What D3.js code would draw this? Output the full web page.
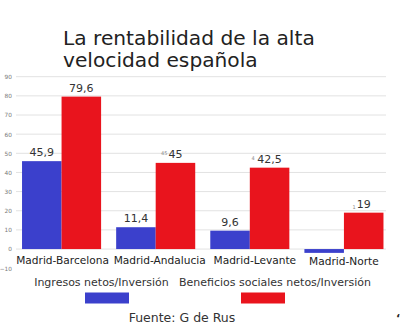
<!DOCTYPE html>
<html>
<head>
<meta charset="utf-8">
<script src="https://cdn.jsdelivr.net/npm/d3@7"></script>
<style>
  html, body { margin: 0; padding: 0; background: #ffffff; }
  svg { display: block; font-family: "DejaVu Sans", Verdana, sans-serif; }
</style>
</head>
<body>
<div id="chart"></div>
<script>
  const categories = ["Madrid-Barcelona", "Madrid-Andalucia", "Madrid-Levante", "Madrid-Norte"];
  const seriesNames = ["Ingresos netos/Inversión", "Beneficios sociales netos/Inversión"];
  const ingresos = [45.9, 11.4, 9.6, -2];
  const beneficios = [79.6, 45, 42.5, 19];
  const ingresosLabels = ["45,9", "11,4", "9,6", ""];
  const beneficiosLabels = ["79,6", "45", "42,5", "19"];
  const beneficiosPrefix = ["", "45", "4", "1"];
  const yTicks = [-10, 0, 10, 20, 30, 40, 50, 60, 70, 80, 90];

  const width = 401;
  const height = 333;
  const colors = ["#3b40cc", "#e9141d"];
  const textColor = "#333333";

  const svg = d3.select("#chart").append("svg").attr("width", width).attr("height", height);

  const x = d3.scaleBand().domain(categories).range([14.5, 391]).paddingInner(0.16).paddingOuter(0.08);
  const xs = d3.scaleBand().domain(seriesNames).range([0, x.bandwidth()]);
  const y = d3.scaleLinear().domain([-10, 90]).range([268.2, 76.7]);

  // gridlines
  svg
    .append("g")
    .selectAll("line")
    .data(yTicks.filter((d) => d >= 0))
    .join("line")
    .attr("x1", 16)
    .attr("x2", 386)
    .attr("y1", (d) => y(d))
    .attr("y2", (d) => y(d))
    .attr("stroke", "#e2e2e2")
    .attr("stroke-width", 1);

  // y axis labels, tiny and grey
  svg
    .append("g")
    .attr("transform", "translate(12,0)")
    .call(d3.axisLeft(y).tickValues(yTicks).tickSize(0).tickPadding(0))
    .call((axis) => axis.select(".domain").remove())
    .call((axis) => axis.selectAll("text").attr("fill", "#777").attr("font-size", 5.8).attr("font-family", "DejaVu Sans"));

  const rows = categories.map((cat, i) => ({
    cat,
    values: [
      { series: seriesNames[0], value: ingresos[i], label: ingresosLabels[i], prefix: "" },
      { series: seriesNames[1], value: beneficios[i], label: beneficiosLabels[i], prefix: beneficiosPrefix[i] },
    ],
  }));

  const groups = svg
    .append("g")
    .selectAll("g")
    .data(rows)
    .join("g")
    .attr("transform", (d) => `translate(${x(d.cat)},0)`);

  groups
    .selectAll("rect")
    .data((d) => d.values)
    .join("rect")
    .attr("x", (d) => xs(d.series))
    .attr("width", xs.bandwidth())
    .attr("y", (d) => y(Math.max(0, d.value)))
    .attr("height", (d) => Math.abs(y(d.value) - y(0)))
    .attr("fill", (d, i) => colors[i]);

  groups
    .selectAll("text.value")
    .data((d) => d.values.filter((v) => v.label))
    .join("text")
    .attr("class", "value")
    .attr("x", (d) => xs(d.series) + xs.bandwidth() / 2)
    .attr("y", (d) => y(d.value) - 5)
    .attr("text-anchor", "middle")
    .attr("font-size", 11)
    .attr("fill", textColor)
    .text((d) => d.label);

  // small faded digits sitting just left of some red labels
  groups
    .selectAll("text.prefix")
    .data((d) => d.values.filter((v) => v.prefix))
    .join("text")
    .attr("class", "prefix")
    .attr("x", (d) => xs(d.series) + xs.bandwidth() / 2 - (d.label.length * 3.5) - 1)
    .attr("y", (d) => y(d.value) - (d.prefix === "1" ? 4 : 8))
    .attr("text-anchor", "end")
    .attr("font-size", 5)
    .attr("fill", "#888")
    .text((d) => d.prefix);

  // category labels, nudged apart so neighbours don't touch
  const labelShift = [1, 4, 5, 0];
  svg
    .append("g")
    .selectAll("text")
    .data(categories)
    .join("text")
    .attr("x", (d, i) => x(d) + x.bandwidth() / 2 + labelShift[i])
    .attr("y", (d, i) => (i === 3 ? 265 : 264))
    .attr("text-anchor", "middle")
    .attr("font-size", 10.6)
    .attr("fill", "#222")
    .text((d) => d);

  // title
  const title = svg.append("text").attr("x", 63).attr("font-size", 20.2).attr("fill", "#222");
  title.append("tspan").attr("x", 63).attr("y", 45).text("La rentabilidad de la alta");
  title.append("tspan").attr("x", 63).attr("y", 67).text("velocidad española");

  // legend: labels on one row, swatches below
  const legendItems = [
    { name: seriesNames[0], textX: 101.5, swatchX: 85 },
    { name: seriesNames[1], textX: 275, swatchX: 241 },
  ];
  const legend = svg.append("g");
  legend
    .selectAll("text")
    .data(legendItems)
    .join("text")
    .attr("x", (d) => d.textX)
    .attr("y", 286)
    .attr("text-anchor", "middle")
    .attr("font-size", 11)
    .attr("fill", textColor)
    .text((d) => d.name);
  legend
    .selectAll("rect")
    .data(legendItems)
    .join("rect")
    .attr("x", (d) => d.swatchX)
    .attr("y", 292.5)
    .attr("width", 44)
    .attr("height", 11)
    .attr("fill", (d, i) => colors[i]);

  svg
    .append("text")
    .attr("x", 182)
    .attr("y", 322)
    .attr("text-anchor", "middle")
    .attr("font-size", 12.5)
    .attr("fill", textColor)
    .text("Fuente: G de Rus");

  svg
    .append("text")
    .attr("x", 396)
    .attr("y", 322)
    .attr("font-size", 11)
    .attr("font-weight", "bold")
    .attr("fill", "#222")
    .text("‘");
</script>
</body>
</html>
